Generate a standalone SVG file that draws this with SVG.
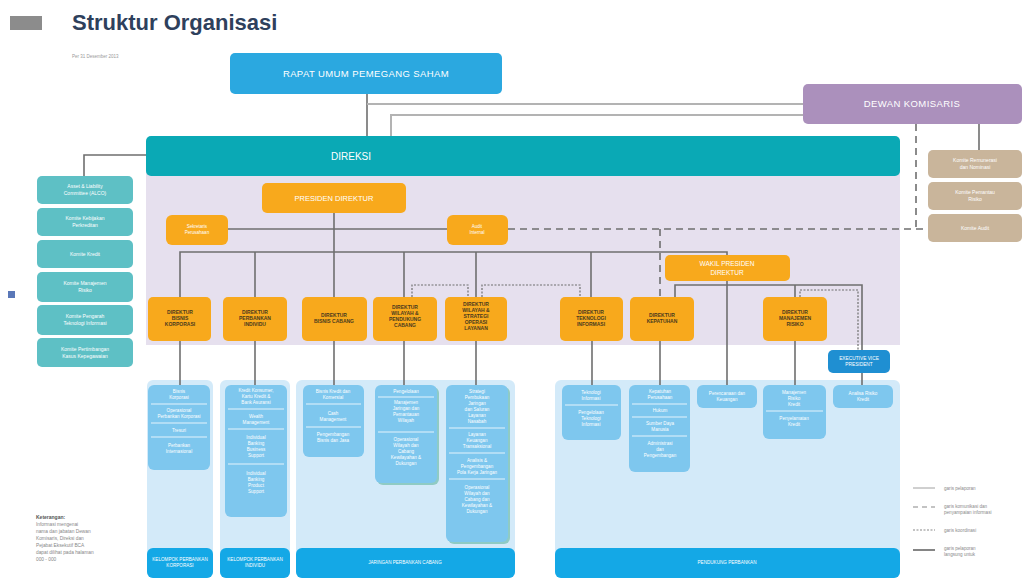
<svg xmlns="http://www.w3.org/2000/svg" width="1024" height="585" viewBox="0 0 1024 585">
<style>
text{font-family:"Liberation Sans",Arial,sans-serif}
.ln{stroke:#6f6f6f;stroke-width:1.6;fill:none}
.lg{stroke:#b3b3b3;stroke-width:2;fill:none}
.dash{stroke:#6f6f6f;stroke-width:1.6;fill:none;stroke-dasharray:7 5}
.dot{stroke:#6f6f6f;stroke-width:1.2;fill:none;stroke-dasharray:2 1.5}
.org{fill:#f8a91c}
.dt{fill:#4b3b1e;font-size:5px;font-weight:bold;text-anchor:middle}
.wt{fill:#ffffff;text-anchor:middle}
.tealc{fill:#5ec0c5}
.tan{fill:#c9b59b}
.panel{fill:#d3eaf9}
.bar{fill:#14a8e6}
.inner{fill:#7ec7ee}
.it{fill:#ffffff;font-size:4.6px;text-anchor:middle}
.dv{stroke:#ffffff;stroke-width:0.8}
.bt{fill:#ffffff;font-size:4.6px;text-anchor:middle}
.leg{fill:#8a8a8a;font-size:4.6px}
</style>
<rect width="1024" height="585" fill="#ffffff"/>
<g id="title">
<rect x="10" y="16" width="32" height="14" fill="#8c8c8c"/>
<text x="72" y="30" font-size="22" font-weight="bold" fill="#2e405c">Struktur Organisasi</text>
<text x="72" y="58" font-size="4.5" fill="#999">Per 31 Desember 2013</text>
</g>
<rect id="direksi-area" x="146" y="170" width="754" height="175" fill="#e6e0ee"/>
<g id="lower-panels">
<rect class="panel" x="147" y="380" width="66" height="198" rx="6"/>
<rect class="panel" x="220" y="380" width="70" height="198" rx="6"/>
<rect class="panel" x="296" y="380" width="219" height="198" rx="6"/>
<rect class="panel" x="555" y="380" width="345" height="198" rx="6"/>
</g>
<g id="connectors">
<path class="ln" d="M367 94V136"/>
<path class="lg" d="M367 104H803"/>
<path class="lg" d="M391 136V115H803"/>
<path class="ln" d="M146 155H84V176"/>
<path class="ln" d="M979 124V150"/>
<path class="dash" d="M916 124V229"/>
<path class="dash" d="M508 229H928"/>
<path class="dash" d="M660 229V297"/>
<path class="ln" d="M228 229H447"/>
<path class="ln" d="M334 213V297"/>
<path class="ln" d="M180 297V252H727V255"/>
<path class="ln" d="M255 252V297"/>
<path class="ln" d="M404 252V297"/>
<path class="ln" d="M476 252V297"/>
<path class="ln" d="M591 252V297"/>
<path class="ln" d="M675 297V285H862V350"/>
<path class="ln" d="M727 281V385"/>
<path class="ln" d="M795 285V297"/>
<path class="dot" d="M412 297V285H468V297"/>
<path class="dot" d="M482 297V285H580V297"/>
<path class="dot" d="M800 297V290H858V350"/>
<path class="ln" d="M180 341V385"/>
<path class="ln" d="M255 341V385"/>
<path class="ln" d="M334 341V385"/>
<path class="ln" d="M404 341V385"/>
<path class="ln" d="M476 341V385"/>
<path class="ln" d="M592 341V385"/>
<path class="ln" d="M660 341V385"/>
<path class="ln" d="M795 341V385"/>
<path class="ln" d="M862 373V385"/>
</g>
<g id="rups">
<rect x="230" y="53" width="272" height="41" rx="5" fill="#2ba8e0"/>
<text x="366" y="77" font-size="9.5" class="wt" letter-spacing="0.4">RAPAT UMUM PEMEGANG SAHAM</text>
</g>
<g id="dewan-komisaris">
<rect x="803" y="84" width="219" height="40" rx="5" fill="#ab90bc"/>
<text x="912" y="107" font-size="9.5" class="wt" letter-spacing="0.4">DEWAN KOMISARIS</text>
</g>
<g id="direksi">
<rect x="146" y="136" width="754" height="40" rx="5" fill="#0aa9b5"/>
<text x="351" y="160" font-size="10" class="wt">DIREKSI</text>
</g>
<g id="komite-direksi">
<rect class="tealc" x="37" y="176" width="96" height="28" rx="5"/>
<text class="wt" font-size="5" x="85" y="188">Asset &amp; Liability</text><text class="wt" font-size="5" x="85" y="195">Committee (ALCO)</text>
<rect class="tealc" x="37" y="208" width="96" height="28" rx="5"/>
<text class="wt" font-size="5" x="85" y="220">Komite Kebijakan</text><text class="wt" font-size="5" x="85" y="227">Perkreditan</text>
<rect class="tealc" x="37" y="240" width="96" height="28" rx="5"/>
<text class="wt" font-size="5" x="85" y="256">Komite Kredit</text>
<rect class="tealc" x="37" y="272" width="96" height="30" rx="5"/>
<text class="wt" font-size="5" x="85" y="285">Komite Manajemen</text><text class="wt" font-size="5" x="85" y="292">Risiko</text>
<rect class="tealc" x="37" y="305" width="96" height="30" rx="5"/>
<text class="wt" font-size="5" x="85" y="318">Komite Pengarah</text><text class="wt" font-size="5" x="85" y="325">Teknologi Informasi</text>
<rect class="tealc" x="37" y="338" width="96" height="29" rx="5"/>
<text class="wt" font-size="5" x="85" y="351">Komite Pertimbangan</text><text class="wt" font-size="5" x="85" y="358">Kasus Kepegawaian</text>
</g>
<rect x="8" y="291" width="7" height="7" fill="#5a78b8"/>
<g id="komite-komisaris">
<rect class="tan" x="928" y="150" width="94" height="28" rx="5"/>
<text class="wt" font-size="5" x="975" y="162">Komite Remunerasi</text><text class="wt" font-size="5" x="975" y="169">dan Nominasi</text>
<rect class="tan" x="928" y="182" width="94" height="28" rx="5"/>
<text class="wt" font-size="5" x="975" y="194">Komite Pemantau</text><text class="wt" font-size="5" x="975" y="201">Risiko</text>
<rect class="tan" x="928" y="214" width="94" height="28" rx="5"/>
<text class="wt" font-size="5" x="975" y="230">Komite Audit</text>
</g>
<g id="presiden-direktur">
<rect class="org" x="262" y="183" width="144" height="30" rx="5"/>
<text class="wt" font-size="7.5" x="334" y="201">PRESIDEN DIREKTUR</text>
</g>
<g id="sekretaris">
<rect class="org" x="166" y="215" width="62" height="30" rx="6"/>
<text class="wt" font-size="4.5" x="197" y="228">Sekretaris</text><text class="wt" font-size="4.5" x="197" y="234">Perusahaan</text>
</g>
<g id="audit-internal">
<rect class="org" x="447" y="215" width="61" height="30" rx="6"/>
<text class="wt" font-size="4.5" x="477" y="228">Audit</text><text class="wt" font-size="4.5" x="477" y="234">Internal</text>
</g>
<g id="wakil-presdir">
<rect class="org" x="665" y="255" width="125" height="26" rx="5"/>
<text class="wt" font-size="6.5" x="727" y="266">WAKIL PRESIDEN</text><text class="wt" font-size="6.5" x="727" y="275">DIREKTUR</text>
</g>
<g id="dir-korporasi">
<rect class="org" x="148" y="297" width="63" height="44" rx="5"/>
<text class="dt" x="180" y="314">DIREKTUR</text><text class="dt" x="180" y="320">BISNIS</text><text class="dt" x="180" y="326">KORPORASI</text>
</g>
<g id="dir-individu">
<rect class="org" x="223" y="297" width="64" height="44" rx="5"/>
<text class="dt" x="255" y="314">DIREKTUR</text><text class="dt" x="255" y="320">PERBANKAN</text><text class="dt" x="255" y="326">INDIVIDU</text>
</g>
<g id="dir-cabang">
<rect class="org" x="302" y="297" width="65" height="44" rx="5"/>
<text class="dt" x="334" y="317">DIREKTUR</text><text class="dt" x="334" y="323">BISNIS CABANG</text>
</g>
<g id="dir-wpc">
<rect class="org" x="373" y="297" width="64" height="44" rx="5"/>
<text class="dt" x="405" y="309">DIREKTUR</text><text class="dt" x="405" y="315">WILAYAH &amp;</text><text class="dt" x="405" y="321">PENDUKUNG</text><text class="dt" x="405" y="327">CABANG</text>
</g>
<g id="dir-wsol">
<rect class="org" x="445" y="297" width="62" height="44" rx="5"/>
<text class="dt" x="476" y="306">DIREKTUR</text><text class="dt" x="476" y="312">WILAYAH &amp;</text><text class="dt" x="476" y="318">STRATEGI</text><text class="dt" x="476" y="324">OPERASI</text><text class="dt" x="476" y="330">LAYANAN</text>
</g>
<g id="dir-ti">
<rect class="org" x="560" y="297" width="63" height="44" rx="5"/>
<text class="dt" x="591" y="314">DIREKTUR</text><text class="dt" x="591" y="320">TEKNOLOGI</text><text class="dt" x="591" y="326">INFORMASI</text>
</g>
<g id="dir-kepatuhan">
<rect class="org" x="630" y="297" width="64" height="44" rx="5"/>
<text class="dt" x="662" y="317">DIREKTUR</text><text class="dt" x="662" y="323">KEPATUHAN</text>
</g>
<g id="dir-risiko">
<rect class="org" x="763" y="297" width="64" height="44" rx="5"/>
<text class="dt" x="795" y="314">DIREKTUR</text><text class="dt" x="795" y="320">MANAJEMEN</text><text class="dt" x="795" y="326">RISIKO</text>
</g>
<g id="evp">
<rect x="828" y="350" width="62" height="23" rx="5" fill="#1f8fd2"/>
<text class="wt" font-size="4.8" x="859" y="360">EXECUTIVE VICE</text><text class="wt" font-size="4.8" x="859" y="366">PRESIDENT</text>
</g>
<g id="grup-korporasi">
<rect class="bar" x="147" y="548" width="66" height="30" rx="6"/>
<text class="bt" x="180" y="561">KELOMPOK PERBANKAN</text><text class="bt" x="180" y="567">KORPORASI</text>
<rect class="inner" x="148" y="385" width="62" height="85" rx="6"/>
<text class="it" x="179" y="393">Bisnis</text><text class="it" x="179" y="399">Korporasi</text>
<line class="dv" x1="151" y1="404" x2="207" y2="404"/>
<text class="it" x="179" y="412">Operasional</text><text class="it" x="179" y="418">Perbankan Korporasi</text>
<line class="dv" x1="151" y1="423" x2="207" y2="423"/>
<text class="it" x="179" y="432">Tresuri</text>
<line class="dv" x1="151" y1="437" x2="207" y2="437"/>
<text class="it" x="179" y="447">Perbankan</text><text class="it" x="179" y="453">Internasional</text>
</g>
<g id="grup-individu">
<rect class="bar" x="220" y="548" width="70" height="30" rx="6"/>
<text class="bt" x="255" y="561">KELOMPOK PERBANKAN</text><text class="bt" x="255" y="567">INDIVIDU</text>
<rect class="inner" x="225" y="385" width="62" height="132" rx="6"/>
<text class="it" x="256" y="392">Kredit Konsumer,</text><text class="it" x="256" y="398">Kartu Kredit &amp;</text><text class="it" x="256" y="404">Bank Asuransi</text>
<line class="dv" x1="228" y1="409" x2="284" y2="409"/>
<text class="it" x="256" y="418">Wealth</text><text class="it" x="256" y="424">Management</text>
<line class="dv" x1="228" y1="429" x2="284" y2="429"/>
<text class="it" x="256" y="439">Individual</text><text class="it" x="256" y="445">Banking</text><text class="it" x="256" y="451">Business</text><text class="it" x="256" y="457">Support</text>
<line class="dv" x1="228" y1="464" x2="284" y2="464"/>
<text class="it" x="256" y="475">Individual</text><text class="it" x="256" y="481">Banking</text><text class="it" x="256" y="487">Product</text><text class="it" x="256" y="493">Support</text>
</g>
<g id="grup-cabang">
<rect class="bar" x="296" y="548" width="219" height="30" rx="6"/>
<text class="bt" x="405" y="564">JARINGAN PERBANKAN CABANG</text>
<rect class="inner" x="303" y="385" width="61" height="72" rx="6"/>
<text class="it" x="333" y="393">Bisnis Kredit dan</text><text class="it" x="333" y="399">Komersial</text>
<line class="dv" x1="306" y1="404" x2="361" y2="404"/>
<text class="it" x="333" y="415">Cash</text><text class="it" x="333" y="421">Management</text>
<line class="dv" x1="306" y1="427" x2="361" y2="427"/>
<text class="it" x="333" y="436">Pengembangan</text><text class="it" x="333" y="442">Bisnis dan Jasa</text>
<rect x="377" y="387" width="62" height="98" rx="6" fill="#8fcbc4"/>
<rect class="inner" x="375" y="385" width="62" height="98" rx="6"/>
<text class="it" x="406" y="393">Pengelolaan</text>
<line class="dv" x1="378" y1="397" x2="434" y2="397"/>
<text class="it" x="406" y="404">Manajemen</text><text class="it" x="406" y="410">Jaringan dan</text><text class="it" x="406" y="416">Pemantauan</text><text class="it" x="406" y="422">Wilayah</text>
<line class="dv" x1="378" y1="432" x2="434" y2="432"/>
<text class="it" x="406" y="441">Operasional</text><text class="it" x="406" y="447">Wilayah dan</text><text class="it" x="406" y="453">Cabang</text><text class="it" x="406" y="459">Kewilayahan &amp;</text><text class="it" x="406" y="465">Dukungan</text>
<rect x="448" y="387" width="62" height="157" rx="6" fill="#8fcbc4"/>
<rect class="inner" x="446" y="385" width="62" height="157" rx="6"/>
<text class="it" x="477" y="393">Strategi</text><text class="it" x="477" y="399">Pembukaan</text><text class="it" x="477" y="405">Jaringan</text><text class="it" x="477" y="411">dan Saluran</text><text class="it" x="477" y="417">Layanan</text><text class="it" x="477" y="423">Nasabah</text>
<line class="dv" x1="449" y1="428" x2="505" y2="428"/>
<text class="it" x="477" y="436">Layanan</text><text class="it" x="477" y="442">Keuangan</text><text class="it" x="477" y="448">Transaksional</text>
<line class="dv" x1="449" y1="453" x2="505" y2="453"/>
<text class="it" x="477" y="462">Analisis &amp;</text><text class="it" x="477" y="468">Pengembangan</text><text class="it" x="477" y="474">Pola Kerja Jaringan</text>
<line class="dv" x1="449" y1="479" x2="505" y2="479"/>
<text class="it" x="477" y="489">Operasional</text><text class="it" x="477" y="495">Wilayah dan</text><text class="it" x="477" y="501">Cabang dan</text><text class="it" x="477" y="507">Kewilayahan &amp;</text><text class="it" x="477" y="513">Dukungan</text>
</g>
<g id="grup-pendukung">
<rect class="bar" x="555" y="548" width="345" height="30" rx="6"/>
<text class="bt" x="727" y="564">PENDUKUNG PERBANKAN</text>
<rect class="inner" x="562" y="385" width="59" height="55" rx="6"/>
<text class="it" x="591" y="394">Teknologi</text><text class="it" x="591" y="400">Informasi</text>
<line class="dv" x1="565" y1="405" x2="618" y2="405"/>
<text class="it" x="591" y="414">Pengelolaan</text><text class="it" x="591" y="420">Teknologi</text><text class="it" x="591" y="426">Informasi</text>
<rect class="inner" x="629" y="385" width="61" height="87" rx="6"/>
<text class="it" x="660" y="393">Kepatuhan</text><text class="it" x="660" y="399">Perusahaan</text>
<line class="dv" x1="632" y1="404" x2="687" y2="404"/>
<text class="it" x="660" y="412">Hukum</text>
<line class="dv" x1="632" y1="417" x2="687" y2="417"/>
<text class="it" x="660" y="425">Sumber Daya</text><text class="it" x="660" y="431">Manusia</text>
<line class="dv" x1="632" y1="436" x2="687" y2="436"/>
<text class="it" x="660" y="445">Administrasi</text><text class="it" x="660" y="451">dan</text><text class="it" x="660" y="457">Pengembangan</text>
<rect class="inner" x="697" y="385" width="60" height="23" rx="6"/>
<text class="it" x="727" y="395">Perencanaan dan</text><text class="it" x="727" y="401">Keuangan</text>
<rect class="inner" x="763" y="385" width="63" height="54" rx="6"/>
<text class="it" x="794" y="394">Manajemen</text><text class="it" x="794" y="400">Risiko</text><text class="it" x="794" y="406">Kredit</text>
<line class="dv" x1="766" y1="411" x2="823" y2="411"/>
<text class="it" x="794" y="420">Penyelamatan</text><text class="it" x="794" y="426">Kredit</text>
<rect class="inner" x="833" y="385" width="60" height="23" rx="6"/>
<text class="it" x="863" y="395">Analisa Risiko</text><text class="it" x="863" y="401">Kredit</text>
</g>
<g id="legenda">
<line x1="913" y1="488" x2="935" y2="488" stroke="#888" stroke-width="0.8"/>
<text class="leg" x="944" y="490">garis pelaporan</text>
<line x1="913" y1="507" x2="935" y2="507" stroke="#888" stroke-width="1.2" stroke-dasharray="5 4"/>
<text class="leg" x="944" y="508">garis komunikasi dan</text><text class="leg" x="944" y="514">penyampaian informasi</text>
<line x1="913" y1="530" x2="935" y2="530" stroke="#888" stroke-width="1.2" stroke-dasharray="2 1.5"/>
<text class="leg" x="944" y="532">garis koordinasi</text>
<line x1="913" y1="550" x2="935" y2="550" stroke="#666" stroke-width="1.6"/>
<text class="leg" x="944" y="550">garis pelaporan</text><text class="leg" x="944" y="556">langsung untuk</text>
</g>
<g id="keterangan">
<text x="36" y="519" font-size="5" font-weight="bold" fill="#555">Keterangan:</text>
<text x="36" y="526" font-size="4.8" fill="#888">Informasi mengenai</text>
<text x="36" y="533" font-size="4.8" fill="#888">nama dan jabatan Dewan</text>
<text x="36" y="540" font-size="4.8" fill="#888">Komisaris, Direksi dan</text>
<text x="36" y="547" font-size="4.8" fill="#888">Pejabat Eksekutif BCA</text>
<text x="36" y="554" font-size="4.8" fill="#888">dapat dilihat pada halaman</text>
<text x="36" y="561" font-size="4.8" fill="#888">000 - 000</text>
</g>
</svg>
